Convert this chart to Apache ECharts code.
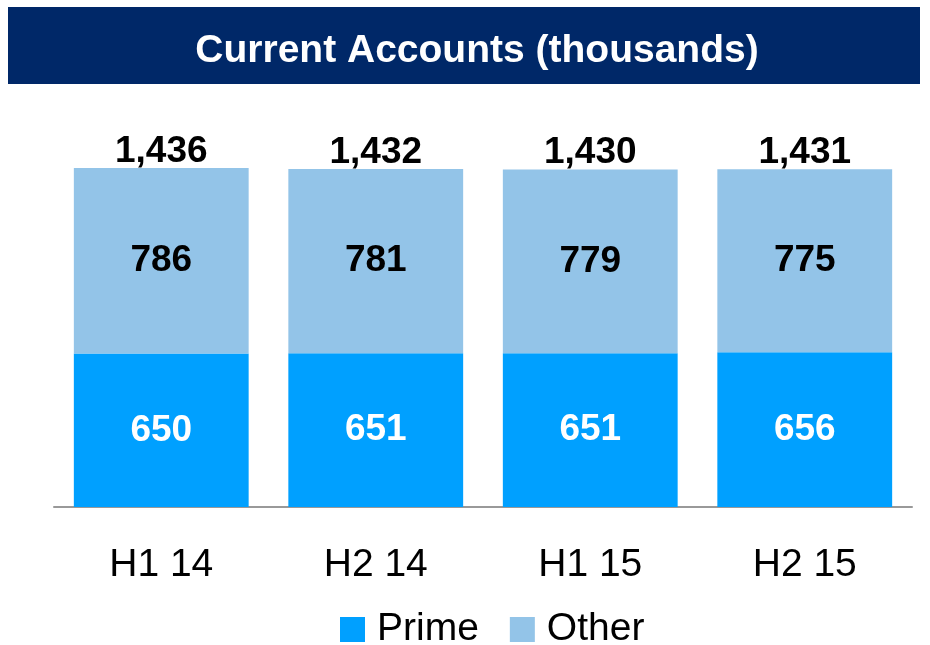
<!DOCTYPE html>
<html>
<head>
<meta charset="utf-8">
<script src="https://cdn.jsdelivr.net/npm/echarts@6/dist/echarts.min.js"></script>
<style>
  html, body { margin: 0; padding: 0; background: #fff; }
  #main { width: 930px; height: 645px; }
</style>
</head>
<body>
<div id="main"></div>
<script>
  var categories = ['H1 14', 'H2 14', 'H1 15', 'H2 15'];
  var prime = [650, 651, 651, 656];
  var other = [786, 781, 779, 775];
  var totals = [1436, 1432, 1430, 1431];

  // no Arial Narrow offline, so Liberation Sans at a smaller size keeps the widths
  var font = "'Liberation Sans', Arial, sans-serif";

  function fmt(v) {
    return v.toLocaleString('en-US');
  }

  var myChart = echarts.init(document.getElementById('main'));
  myChart.setOption({
    animation: false,
    color: ['#00A0FF', '#93C4E8'],
    title: {
      text: 'Current Accounts (thousands)',
      left: 472,
      top: 46,
      textAlign: 'center',
      textVerticalAlign: 'middle',
      textStyle: {
        color: '#fff',
        fontFamily: font,
        fontWeight: 'bold',
        fontSize: 39
      }
    },
    graphic: [{
      type: 'rect',
      z: -1,
      shape: { x: 8, y: 7, width: 912, height: 77 },
      style: { fill: '#002868' }
    }],
    legend: {
      data: ['Prime', 'Other'],
      left: 335,
      top: 605,
      itemWidth: 25,
      itemHeight: 25,
      itemGap: 31,
      icon: 'rect',
      textStyle: {
        fontFamily: font,
        fontSize: 39,
        color: '#000',
        padding: [0, 0, 0, 7]
      }
    },
    grid: {
      left: 54,
      right: 18,
      top: 153,
      bottom: 138
    },
    xAxis: {
      type: 'category',
      data: categories,
      axisTick: { show: false },
      axisLine: { lineStyle: { color: '#999', width: 2 } },
      axisLabel: {
        margin: 39,
        color: '#000',
        fontFamily: font,
        fontSize: 39
      }
    },
    yAxis: {
      type: 'value',
      min: 0,
      max: 1500,
      show: false,
      splitLine: { show: false }
    },
    series: [{
      name: 'Prime',
      type: 'bar',
      stack: 'total',
      barCategoryGap: '18.5%',
      data: prime,
      label: {
        show: true,
        position: 'inside',
        color: '#fff',
        fontFamily: font,
        fontWeight: 'bold',
        fontSize: 37
      }
    }, {
      name: 'Other',
      type: 'bar',
      stack: 'total',
      data: other,
      label: {
        show: true,
        position: 'inside',
        color: '#000',
        fontFamily: font,
        fontWeight: 'bold',
        fontSize: 37
      }
    }, {
      // invisible bar just to carry the total above each stack
      name: 'Total',
      type: 'bar',
      barGap: '-100%',
      data: totals,
      silent: true,
      z: 1,
      itemStyle: { color: 'rgba(0,0,0,0)' },
      label: {
        show: true,
        position: 'top',
        distance: -2,
        formatter: function (p) { return fmt(p.value); },
        color: '#000',
        fontFamily: font,
        fontWeight: 'bold',
        fontSize: 37
      }
    }]
  });
</script>
</body>
</html>
